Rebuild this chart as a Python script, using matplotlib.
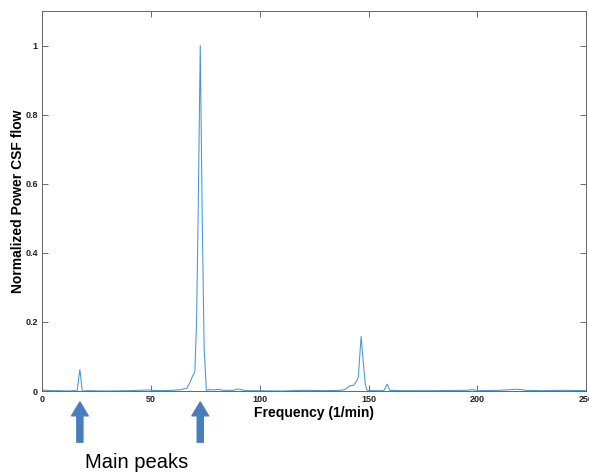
import numpy as np
import matplotlib
matplotlib.use('Agg')
import matplotlib.pyplot as plt
import matplotlib.transforms as mtransforms

plt.rcParams['font.family'] = ['Liberation Sans', 'DejaVu Sans']

# spectrum (frequency in 1/min, normalized power)
freq = [0, 2, 4, 8, 12, 15, 16.1, 17.4, 18.5, 21, 30, 40, 49, 50, 55, 60,
        64, 66.5, 68, 69.3, 70.2, 71.0, 71.7, 72.7, 73.6, 74.5, 75.5,
        77, 79, 81, 83, 88, 90, 91, 94, 100, 110, 120, 130, 137, 139,
        141.5, 143, 144.5, 145.3, 146.6, 147.5, 148.5, 149.3, 152, 157,
        158.6, 159.7, 165, 180, 195, 198, 200, 210, 218, 220, 222, 230,
        240, 250]
power = [0.003, 0.002, 0.001, 0.001, 0.0, 0.001, 0.0, 0.062, 0.0, 0.001,
         0.0, 0.001, 0.003, 0.002, 0.001, 0.002,
         0.004, 0.008, 0.025, 0.045, 0.055, 0.2, 0.5, 1.0, 0.5, 0.12, 0.002,
         0.004, 0.003, 0.005, 0.002, 0.002, 0.006, 0.004, 0.001, 0.001,
         0.0, 0.002, 0.001, 0.002, 0.004,
         0.015, 0.016, 0.028, 0.04, 0.158, 0.09, 0.02, 0.002, 0.001, 0.001,
         0.02, 0.002, 0.001, 0.001, 0.002, 0.004, 0.001, 0.002, 0.005,
         0.004, 0.002, 0.001, 0.002, 0.001]

peak_freqs = [17.4, 72.7]
xticks = [0, 50, 100, 150, 200, 250]
yticks = [0, 0.2, 0.4, 0.6, 0.8, 1]

fig = plt.figure(figsize=(5.89, 4.74), dpi=100)
ax = fig.add_axes([0.0713, 0.1751, 0.924, 0.8017])

ax.plot(freq, power, color='#4496d8', lw=0.75)

ax.set_xlim(0, 250)
ax.set_ylim(0, 1.1)
ax.set_xticks(xticks)
ax.set_yticks(yticks)
ax.set_xticklabels([str(t) for t in xticks])
ax.set_yticklabels(['0', '0.2', '0.4', '0.6', '0.8', '1'])
ax.tick_params(direction='in', top=True, right=True, length=4, width=0.6,
               color='#555555', labelsize=6.5, pad=3)
for lab in ax.get_xticklabels() + ax.get_yticklabels():
    lab.set_fontweight('bold')
    lab.set_color('#222222')
for sp in ax.spines.values():
    sp.set_color('#666666')
    sp.set_linewidth(0.7)

ax.set_xlabel('Frequency (1/min)', fontsize=10, fontweight='bold', labelpad=1.5)
ax.set_ylabel('Normalized Power CSF flow', fontsize=10, fontweight='bold',
              va='center')
ax.yaxis.set_label_coords(-0.044, 0.5)

# arrows under the main peaks
trans = mtransforms.blended_transform_factory(ax.transData, fig.transFigure)
for f in peak_freqs:
    ax.annotate('', xy=(f, 0.152), xytext=(f, 0.067), xycoords=trans,
                textcoords=trans,
                arrowprops=dict(arrowstyle='simple,head_width=0.6,head_length=0.5,tail_width=0.22',
                                color='#4a7ebb', shrinkA=0, shrinkB=0,
                                mutation_scale=20),
                annotation_clip=False)

fig.text(137 / 589, 1 - 462 / 474, 'Main peaks', fontsize=14.5,
         ha='center', va='center')

fig.savefig('out.png', dpi=100)
